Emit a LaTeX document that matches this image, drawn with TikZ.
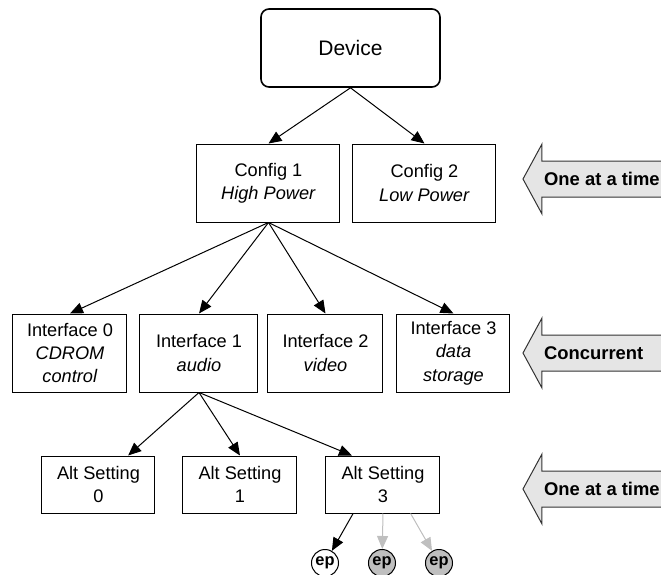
\documentclass[tikz,border=0pt]{standalone}
\usepackage{fontspec}
\setmainfont{Liberation Sans}
\usetikzlibrary{arrows.meta, calc}
\begin{document}
\begin{tikzpicture}[x=0.5pt, y=-0.5pt, line width=0.5pt,
		box/.style={draw, inner sep=0pt, minimum height=39pt, align=center, font=\fontsize{9.1}{11.7}\selectfont},
		ep/.style={draw, circle, inner sep=0pt, minimum size=13.5pt, font=\bfseries\fontsize{8.2}{9}\selectfont},
		link/.style={-{Triangle[length=6.5pt, width=5.5pt]}},
		side/.style={draw=black!80, fill=black!10},
		sidetext/.style={anchor=west, font=\bfseries\fontsize{9.2}{11}\selectfont}]
			\useasboundingbox (0,0) rectangle (661,575);
			\clip (0,0) rectangle (661,575);
			
			%device
			\node[box, rounded corners=4pt, line width=0.8pt, minimum width=89.5pt, font=\fontsize{10.5}{12}\selectfont] (dev) at (350.5, 48){Device};
			
			%configurations
			\node[box, minimum width=71.5pt] (cfg1) at (268.5, 183){Config 1\\\textit{High Power}};
			\node[box, minimum width=71.5pt] (cfg2) at (424.5, 183){Config 2\\\textit{Low Power}};
			\draw[link] (dev.south) -- (cfg1.north);
			\draw[link] (dev.south) -- (cfg2.north);
			
			%interfaces
			\node[box, minimum width=57pt] (if0) at (70, 353){Interface 0\\\textit{CDROM}\\\textit{control}};
			\node[box, minimum width=59pt] (if1) at (199, 353){Interface 1\\\textit{audio}};
			\node[box, minimum width=57.5pt] (if2) at (325.5, 353){Interface 2\\\textit{video}};
			\node[box, minimum width=56.5pt] (if3) at (453.5, 353){Interface 3\\\textit{data}\\\textit{storage}};
			\foreach \i in {0, 1, 2, 3}{
				\draw[link] (cfg1.south) -- (if\i.north);
			}
			
			%alternate settings
			\node[box, minimum width=56.5pt, minimum height=28.5pt] (alt0) at (98.5, 484.5){Alt Setting\\0};
			\node[box, minimum width=57pt, minimum height=28.5pt] (alt1) at (240, 484.5){Alt Setting\\1};
			\node[box, minimum width=57pt, minimum height=28.5pt] (alt3) at (383, 484.5){Alt Setting\\3};
			\draw[link] (if1.south) -- ($(alt0.north west)!0.76!(alt0.north east)$);
			\draw[link] (if1.south) -- (alt1.north);
			\draw[link] (if1.south) -- ($(alt3.north west)!0.23!(alt3.north east)$);
			
			%endpoints
			\node[ep] (ep1) at (325, 563){ep};
			\node[ep, fill=gray!50] (ep2) at (382, 563){ep};
			\node[ep, fill=gray!50] (ep3) at (439, 563){ep};
			\draw[link] ($(alt3.south west)!0.24!(alt3.south east)$) -- (ep1);
			\draw[link, gray!50] (alt3.south) -- (ep2);
			\draw[link, gray!50] ($(alt3.south west)!0.74!(alt3.south east)$) -- (ep3);
			
			%side arrows
			\foreach \y/\t [count=\n] in {179/One at a time, 353/Concurrent, 489/One at a time}{
				\draw[side] (523, \y) -- (542, \y-35) -- (542, \y-18) -- (680, \y-18) -- (680, \y+18) -- (542, \y+18) -- (542, \y+35) -- cycle;
				\node[sidetext] (side\n) at (537, \y){\t};
			}
\end{tikzpicture}
\end{document}
